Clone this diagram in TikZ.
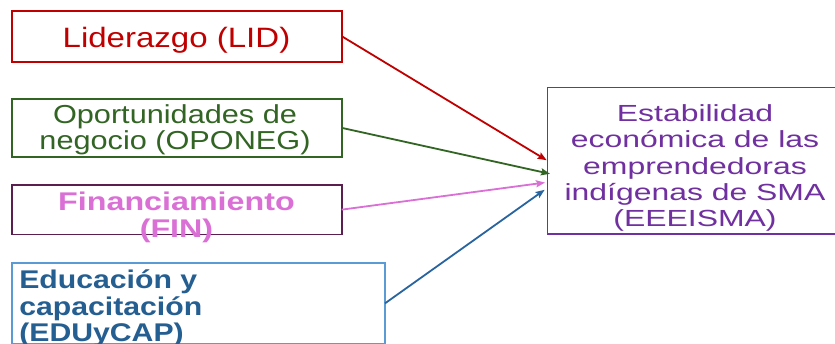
\documentclass[tikz,border=0pt]{standalone}
\usepackage{fontspec}
\setmainfont{Liberation Sans}
\newfontfamily\lidfont{Liberation Sans}[FakeStretch=1.18]
\newfontfamily\opofont{Liberation Sans}[FakeStretch=1.18]
\newfontfamily\finfont{Liberation Sans}[FakeStretch=1.26]
\newfontfamily\edufont{Liberation Sans}[FakeStretch=1.18]
\newfontfamily\eesfont{Liberation Sans}[FakeStretch=1.37]
\usetikzlibrary{arrows.meta}
\definecolor{lidred}{RGB}{192,0,0}
\definecolor{opogreen}{RGB}{50,100,35}
\definecolor{finborder}{RGB}{90,30,80}
\definecolor{finpink}{RGB}{218,112,214}
\definecolor{eduborder}{RGB}{91,155,213}
\definecolor{edutext}{RGB}{37,94,145}
\definecolor{eduarrow}{RGB}{40,100,160}
\definecolor{eespurple}{RGB}{112,48,160}
\tikzset{
  box/.style={draw, line width=1.6pt, inner sep=0pt, outer sep=0pt, fill=white},
  lbl/.style={inner sep=0pt, outer sep=0pt, anchor=base},
  conn/.style={line width=1.8pt, -{Stealth[length=9pt,width=7pt,inset=1.5pt]}},
}
\begin{document}
\begin{tikzpicture}[x=1pt,y=-1pt]
\clip (0,0) rectangle (835,343);
\fill[white] (0,0) rectangle (835,343);
% boxes
\node[box, draw=lidred, minimum width=330pt, minimum height=51pt] (lid) at (176.7,36.2) {};
\node[box, draw=opogreen, minimum width=330pt, minimum height=57.7pt] (opo) at (176.7,127.85) {};
\node[box, draw=finborder, minimum width=330pt, minimum height=49.3pt] (fin) at (176.7,209.65) {};
\node[box, draw=eduborder, minimum width=373.3pt, minimum height=81.3pt] (edu) at (198.35,303.35) {};
\node[box, draw=eespurple, minimum width=294.5pt, minimum height=146.5pt] (ees) at (694.75,160.75) {};
% texts
\node[lbl, text=lidred] (lidtxt) at (176.5,47.7) {\lidfont\fontsize{28}{30}\selectfont Liderazgo (LID)};
\node[lbl, text=opogreen] (opotxt) at (175,123) {\opofont\fontsize{26}{25}\selectfont
  \begin{tabular}[t]{@{}c@{}}Oportunidades de\\ negocio (OPONEG)\end{tabular}};
\node[lbl, text=finpink] (fintxt) at (176.5,210) {\finfont\bfseries\fontsize{25.6}{27}\selectfont
  \begin{tabular}[t]{@{}c@{}}Financiamiento\\ (FIN)\end{tabular}};
\node[lbl, anchor=base west, text=edutext] (edutxt) at (19.3,288.3) {\edufont\bfseries\fontsize{25.6}{26.5}\selectfont
  \begin{tabular}[t]{@{}l@{}}Educación y\\ capacitación\\ (EDUyCAP)\end{tabular}};
\node[lbl, text=eespurple] (eestxt) at (695,121.7) {\eesfont\fontsize{23.3}{26.25}\selectfont
  \begin{tabular}[t]{@{}c@{}}Estabilidad\\ económica de las\\ emprendedoras\\ indígenas de SMA\\ (EEEISMA)\end{tabular}};
% connectors
\draw[conn, lidred, shorten >=1pt] (lid.east) -- (ees.west);
\draw[conn, opogreen, shorten >=-2.5pt] (opo.east) -- ([yshift=-12.5pt]ees.west);
\draw[conn, finpink, shorten >=2.5pt] (fin.east) -- ([yshift=-21.5pt]ees.west);
\draw[conn, eduarrow, shorten >=3.5pt] (edu.east) -- ([yshift=-27pt]ees.west);
\end{tikzpicture}
\end{document}
